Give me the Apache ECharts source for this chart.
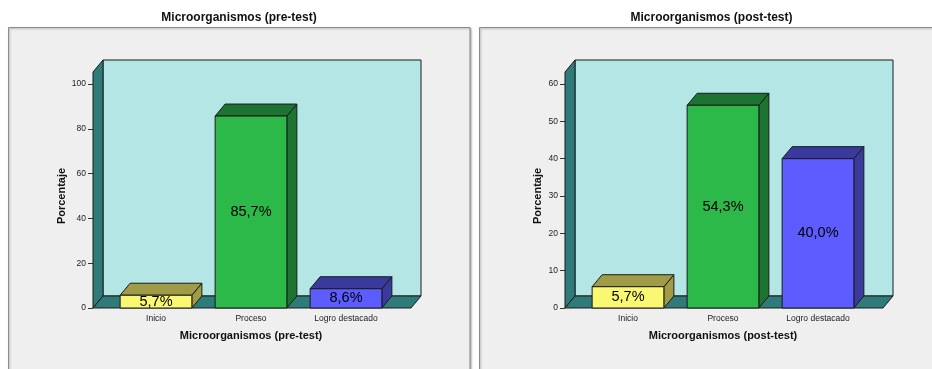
<!DOCTYPE html>
<html>
<head>
<meta charset="utf-8">
<script src="https://cdn.jsdelivr.net/npm/echarts@6/dist/echarts.min.js"></script>
<style>
  html, body { margin: 0; padding: 0; background: #ffffff; }
  #chart { width: 932px; height: 369px; }
</style>
</head>
<body>
<div id="chart"></div>
<script>
// Categories and percentages for both tests
const categories = ['Inicio', 'Proceso', 'Logro destacado'];
const preTest = [5.7, 85.7, 8.6];
const postTest = [5.7, 54.3, 40.0];
// Value axis ranges (max, step between ticks)
const preAxisMax = 100, preAxisStep = 20;
const postAxisMax = 60, postAxisStep = 10;
const chartTitles = ['Microorganismos (pre-test)', 'Microorganismos (post-test)'];
const yAxisName = 'Porcentaje';

const FONT = '"Liberation Sans", Arial, Helvetica, sans-serif';
const DEPTH_X = 10, DEPTH_Y = -12;
const EDGE = '#1a1a1a';
const faceColors = [
  { front: '#FAF873', shade: '#A09B47' },
  { front: '#2DB84A', shade: '#1D7430' },
  { front: '#5C5CFF', shade: '#3A3A9C' }
];

function fmtPct(v) {
  return v.toFixed(1).replace('.', ',') + '%';
}

// Back wall, left wall and floor of the 3D box around each plot
function renderWalls(params, api) {
  const cs = params.coordSys;
  const padL = 15.5, padR = 17.5, rise = 12;
  const x0 = cs.x - padL, x1 = cs.x + cs.width + padR;
  const yb = cs.y + cs.height, yt = cs.y - rise;
  const dx = DEPTH_X, dy = DEPTH_Y;
  return {
    type: 'group',
    children: [
      { type: 'rect', shape: { x: x0 + dx, y: yt + dy, width: x1 - x0, height: yb - yt },
        style: { fill: '#B4E6E6', stroke: EDGE, lineWidth: 1 } },
      { type: 'polygon', shape: { points: [[x0, yb], [x0, yt], [x0 + dx, yt + dy], [x0 + dx, yb + dy]] },
        style: { fill: '#2E7B79', stroke: EDGE, lineWidth: 1 } },
      { type: 'polygon', shape: { points: [[x0, yb], [x1, yb], [x1 + dx, yb + dy], [x0 + dx, yb + dy]] },
        style: { fill: '#2E7B79', stroke: EDGE, lineWidth: 1 } }
    ]
  };
}

// Extruded bar: side face, top face, front face and centred value label
function renderBar(params, api) {
  const idx = api.value(0);
  const v = api.value(1);
  const base = api.coord([idx, 0]);
  const top = api.coord([idx, v]);
  const w = api.size([1, 0])[0] * 0.755;
  const xl = base[0] - w / 2, xr = base[0] + w / 2;
  const yb = base[1], yt = top[1];
  const dx = DEPTH_X, dy = DEPTH_Y;
  const c = faceColors[params.dataIndex];
  return {
    type: 'group',
    children: [
      { type: 'polygon', shape: { points: [[xr, yb], [xr, yt], [xr + dx, yt + dy], [xr + dx, yb + dy]] },
        style: { fill: c.shade, stroke: EDGE, lineWidth: 1 } },
      { type: 'polygon', shape: { points: [[xl, yt], [xr, yt], [xr + dx, yt + dy], [xl + dx, yt + dy]] },
        style: { fill: c.shade, stroke: EDGE, lineWidth: 1 } },
      { type: 'rect', shape: { x: xl, y: yt, width: w, height: yb - yt },
        style: { fill: c.front, stroke: EDGE, lineWidth: 1 } },
      { type: 'text', z2: 10,
        style: { text: fmtPct(v), x: base[0], y: (yb + yt) / 2, align: 'center', verticalAlign: 'middle',
                 font: '14.5px ' + FONT, fill: '#000' } }
    ]
  };
}

function makeXAxis(i) {
  return {
    type: 'category', gridIndex: i, data: categories,
    axisLine: { show: false },
    axisTick: { alignWithLabel: true, length: 5, lineStyle: { color: '#333' } },
    axisLabel: { interval: 0, fontSize: 8.5, fontFamily: FONT, color: '#1a1a1a', margin: 6 },
    name: chartTitles[i], nameLocation: 'middle', nameGap: 22,
    nameTextStyle: { fontSize: 11, fontWeight: 'bold', fontFamily: FONT, color: '#111' }
  };
}

function makeYAxis(i, max, step, gap) {
  return {
    type: 'value', gridIndex: i, min: 0, max: max, interval: step, offset: 15.5,
    axisLine: { show: false },
    axisTick: { show: true, length: 5, lineStyle: { color: '#333' } },
    axisLabel: { fontSize: 8.5, fontFamily: FONT, color: '#222', margin: 7 },
    splitLine: { show: false },
    name: yAxisName, nameLocation: 'middle', nameGap: gap,
    nameTextStyle: { fontSize: 11, fontWeight: 'bold', fontFamily: FONT, color: '#111' }
  };
}

const chart = echarts.init(document.getElementById('chart'), null, { renderer: 'canvas' });

chart.setOption({
  backgroundColor: '#ffffff',
  animation: false,
  graphic: [
    { type: 'rect', z: -10, shape: { x: 8.5, y: 27.5, width: 461.5, height: 360 },
      style: { fill: '#EFEFEF', stroke: '#8c8c8c', lineWidth: 1,
               shadowBlur: 2, shadowOffsetX: 1, shadowOffsetY: 1, shadowColor: 'rgba(0,0,0,0.3)' } },
    { type: 'rect', z: -10, shape: { x: 479.5, y: 27.5, width: 470, height: 360 },
      style: { fill: '#EFEFEF', stroke: '#8c8c8c', lineWidth: 1,
               shadowBlur: 2, shadowOffsetX: 1, shadowOffsetY: 1, shadowColor: 'rgba(0,0,0,0.3)' } },
    { type: 'text', x: 239, y: 18,
      style: { text: chartTitles[0], align: 'center', verticalAlign: 'middle',
               font: 'bold 12px ' + FONT, fill: '#111' } },
    { type: 'text', x: 711.5, y: 18,
      style: { text: chartTitles[1], align: 'center', verticalAlign: 'middle',
               font: 'bold 12px ' + FONT, fill: '#111' } }
  ],
  grid: [
    { left: 108.5, top: 84, width: 285, height: 224 },
    { left: 580.5, top: 84, width: 285, height: 224 }
  ],
  xAxis: [makeXAxis(0), makeXAxis(1)],
  yAxis: [
    makeYAxis(0, preAxisMax, preAxisStep, 26),
    makeYAxis(1, postAxisMax, postAxisStep, 21.5)
  ],
  series: [
    { type: 'custom', xAxisIndex: 0, yAxisIndex: 0, z: 1, silent: true,
      data: [[0, 0]], renderItem: renderWalls },
    { type: 'custom', xAxisIndex: 1, yAxisIndex: 1, z: 1, silent: true,
      data: [[0, 0]], renderItem: renderWalls },
    { type: 'custom', name: chartTitles[0], xAxisIndex: 0, yAxisIndex: 0, z: 3,
      encode: { x: 0, y: 1 },
      data: preTest.map((v, i) => [i, v]), renderItem: renderBar },
    { type: 'custom', name: chartTitles[1], xAxisIndex: 1, yAxisIndex: 1, z: 3,
      encode: { x: 0, y: 1 },
      data: postTest.map((v, i) => [i, v]), renderItem: renderBar }
  ]
});
</script>
</body>
</html>
